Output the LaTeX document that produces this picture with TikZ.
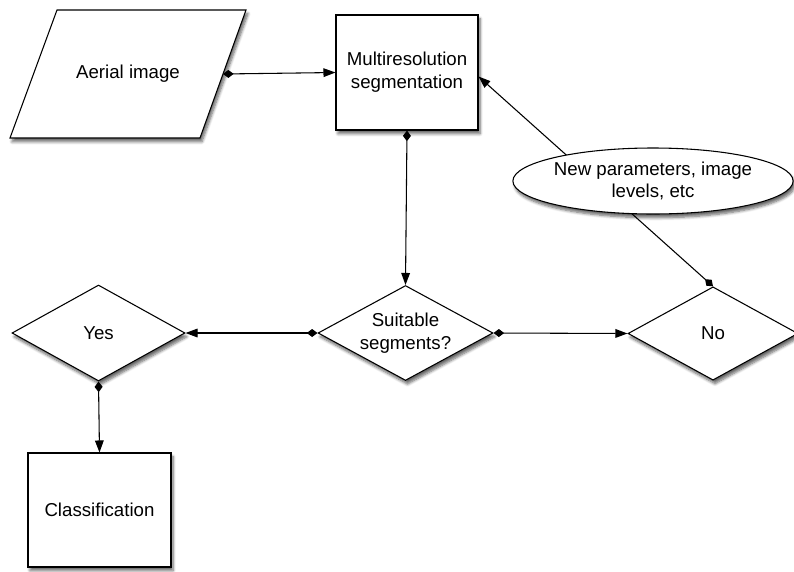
\documentclass[tikz,border=0pt]{standalone}
\usepackage{fontspec}
\setmainfont{Liberation Sans}
\usetikzlibrary{arrows.meta,shapes.geometric,shadows.blur}

\tikzset{
  shade/.style={blur shadow={shadow xshift=1.5pt, shadow yshift=-2.8pt, shadow blur steps=6, shadow opacity=60}},
  shapebase/.style={draw=black, line width=0.8pt, fill=white, shade, align=center, inner sep=0pt,
    font=\fontsize{14}{17}\selectfont},
  boxnode/.style={shapebase, rectangle},
  decision/.style={shapebase, diamond, aspect=1.84},
  notenode/.style={shapebase, ellipse},
  label/.style={align=center, inner sep=0pt, font=\fontsize{14}{17}\selectfont},
  link/.style={line width=0.8pt,
    {Diamond[length=8pt,width=6pt,fill=black]}-{Triangle[length=9pt,width=6.5pt,fill=black]}},
}

\begin{document}
\begin{tikzpicture}[x=0.75pt,y=-0.75pt]
\useasboundingbox (0,0) rectangle (794,572);

% input: slanted data block
\draw[line width=0.8pt, fill=white, shade] (10,138) -- (57,10) -- (246,10) -- (200,138) -- cycle;
\node[label] (aerial) at (128,74) {Aerial image};
\coordinate (aerialout) at (223,74);

% processing
\node[boxnode, minimum width=106.5pt, minimum height=86.25pt] (seg) at (407,72.5) {Multiresolution\\segmentation};

% decisions
\node[decision, minimum width=131.25pt, minimum height=71.25pt] (suit) at (405.5,333) {Suitable\\segments?};
\node[decision, minimum width=129.75pt, minimum height=72pt] (yes) at (98.5,333) {Yes};
\node[decision, minimum width=127.5pt, minimum height=70pt] (no) at (713,333.5) {No};

% result
\node[boxnode, minimum width=107.25pt, minimum height=85.5pt] (cls) at (99.5,510) {Classification};

% feedback loop from "No" back to segmentation
\draw[link] (no.north) -- ([yshift=-3pt]seg.east);
\node[notenode, minimum width=207pt, minimum height=49.5pt] (params) at (653,181)
  {New parameters, image\\levels, etc};

% connectors
\draw[link] (aerialout) -- (seg.west);
\draw[link] (seg.south) -- (suit.north);
\draw[link] (suit.west) -- (yes.east);
\draw[link] (suit.east) -- (no.west);
\draw[link] (yes.south) -- (cls.north);
\end{tikzpicture}
\end{document}
